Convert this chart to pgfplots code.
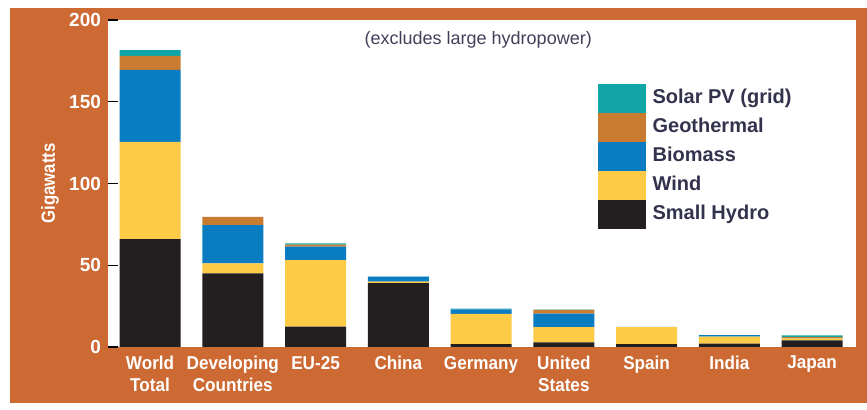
\documentclass[border=0pt]{standalone}
\usepackage{pgfplots}
\pgfplotsset{compat=1.18}
\usepackage{pgfplotstable}
\usepackage{fontspec}
\setmainfont{Liberation Sans}
\newfontfamily\condfont{Liberation Sans}[FakeStretch=0.92]
\newfontfamily\narrowfont{Liberation Sans}[FakeStretch=0.88]

\definecolor{bgorange}{HTML}{CD6A33}
\definecolor{csolar}{HTML}{12A5A8}
\definecolor{cgeo}{HTML}{C97B2F}
\definecolor{cbio}{HTML}{0A7CC2}
\definecolor{cwind}{HTML}{FDCB46}
\definecolor{chydro}{HTML}{231F20}
\definecolor{legtext}{HTML}{33334D}
\definecolor{notetext}{HTML}{40405A}

% x: 0 World Total, 1 Developing, 2 EU-25, 3 China, 4 Germany,
%    5 United States, 6 Spain, 7 India, 8 Japan
\pgfplotstableread{
x  hydro wind bio  geo solar
0  66    59.5 44   8.5 3.5
1  45    6.2  23.4 5.0 0.0
2  12.4  40.8 8.2  1.2 0.8
3  39    1.0  3.0  0.0 0.1
4  1.8   18.5 2.7  0.0 0.5
5  2.9   9.2  8.3  2.3 0.1
6  1.8   10.3 0.1  0.0 0.1
7  2.0   4.3  0.9  0.0 0.0
8  4.0   1.2  0.3  0.6 1.0
}\capdata

\begin{document}
\begin{tikzpicture}
% page background and orange panel (1px = 0.5pt)
\fill[white] (-54pt,-31.5pt) rectangle (379.5pt,173.5pt);
\fill[bgorange] (-49pt,-28pt) rectangle (379.5pt,169.5pt);
\begin{axis}[
    scale only axis,
    width=374pt, height=163.5pt,
    axis background/.style={fill=white},
    axis line style={draw=none},
    ybar stacked,
    bar width=0.737,
    xmin=-0.508, xmax=8.53,
    ymin=0, ymax=200,
    ytick={0,50,100,150,200},
    xtick={0,...,8},
    xticklabels={{World\\Total},{Developing\\Countries},{EU-25},{China},{Germany},{United\\States},{Spain},{India},{Japan}},
    tick align=inside,
    ytick pos=left,
    major tick length=5pt,
    ytick style={black, line width=0.6pt},
    xtick style={draw=none},
    /pgf/number format/assume math mode=true,
    ticklabel style={text=white},
    yticklabel style={font=\bfseries\fontsize{9.5}{11}\selectfont},
    xticklabel style={align=center, yshift=-1pt,
        font=\condfont\bfseries\fontsize{9.3}{11}\selectfont},
    ylabel={Gigawatts},
    every axis y label/.style={at={(axis description cs:-0.0775,0.50)}, rotate=90, anchor=center,
        font=\narrowfont\bfseries\fontsize{9.5}{11}\selectfont, text=white},
    mybar/.style={fill=#1, draw=none,
        legend image code/.code={\fill[fill=#1] (0pt,-7.25pt) rectangle (24pt,7.25pt);}},
    reverse legend,
    legend cell align=left,
    legend style={at={(axis description cs:0.654,0.807)}, anchor=north west,
        draw=none, fill=none, inner sep=0pt, row sep=0pt, column sep=3.5pt,
        font=\bfseries\fontsize{10}{12}\selectfont, text=legtext,
        nodes={inner sep=0pt, minimum height=14.5pt}},
]
\addplot[mybar=chydro] table[x=x, y=hydro] {\capdata};
\addlegendentry{Small Hydro}
\addplot[mybar=cwind] table[x=x, y=wind] {\capdata};
\addlegendentry{Wind}
\addplot[mybar=cbio] table[x=x, y=bio] {\capdata};
\addlegendentry{Biomass}
\addplot[mybar=cgeo] table[x=x, y=geo] {\capdata};
\addlegendentry{Geothermal}
\addplot[mybar=csolar] table[x=x, y=solar] {\capdata};
\addlegendentry{Solar PV (grid)}
\node[text=notetext, font=\fontsize{9}{11}\selectfont, anchor=center]
    at (axis description cs:0.495,0.939) {(excludes large hydropower)};
\end{axis}
\end{tikzpicture}
\end{document}
